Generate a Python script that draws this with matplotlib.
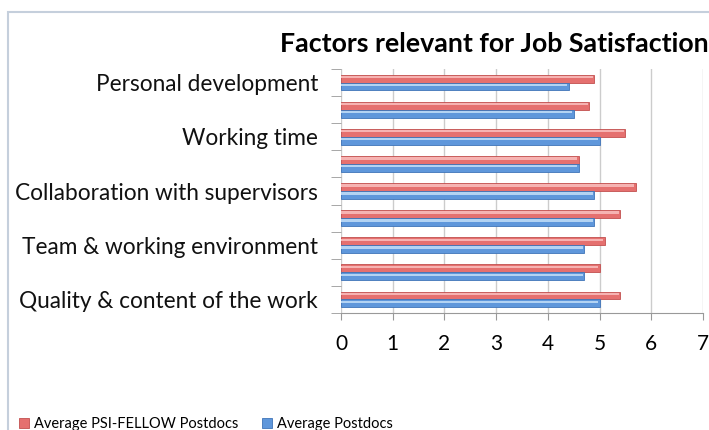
import matplotlib.pyplot as plt
import matplotlib.patches as mpatches
import numpy as np

plt.rcParams['font.family'] = ['Lato', 'DejaVu Sans']

categories = ['Quality & content of the work', '', 'Team & working environment', '',
              'Collaboration with supervisors', '', 'Working time', '', 'Personal development']
psi_fellow = [5.4, 5.0, 5.1, 5.4, 5.7, 4.6, 5.5, 4.8, 4.9]
postdocs = [5.0, 4.7, 4.7, 4.9, 4.9, 4.6, 5.0, 4.5, 4.4]
xticks = [0, 1, 2, 3, 4, 5, 6, 7]

red = '#e5706f'
red_light = '#f6b3b2'
red_edge = '#c24f4f'
blue = '#5f97db'
blue_light = '#b3d3f3'
blue_edge = '#3f74b8'

fig = plt.figure(figsize=(7.09, 4.30), dpi=100)
# chart area frame
fig.patches.append(mpatches.Rectangle((8 / 709, -0.1), 1.2, 1 - 12 / 430 + 0.1,
                                      transform=fig.transFigure, fill=False,
                                      edgecolor='#c5cfdc', linewidth=1.5))

ax = fig.add_axes([341 / 709, 117 / 430, 362 / 709, 244 / 430])
y = np.arange(len(categories))
h = 0.29
ax.barh(y + 0.145, psi_fellow, h, color=red, edgecolor=red_edge, linewidth=0.6,
        label='Average PSI-FELLOW Postdocs', zorder=3)
ax.barh(y - 0.145, postdocs, h, color=blue, edgecolor=blue_edge, linewidth=0.6,
        label='Average Postdocs', zorder=3)
# glossy highlight on the upper part of each bar
ax.barh(y + 0.145 + h * 0.2, np.array(psi_fellow) - 0.03, h * 0.3, color=red_light,
        linewidth=0, zorder=4)
ax.barh(y - 0.145 + h * 0.2, np.array(postdocs) - 0.03, h * 0.3, color=blue_light,
        linewidth=0, zorder=4)

ax.set_xlim(0, 7)
ax.set_ylim(-0.5, len(categories) - 0.5)
ax.set_xticks(xticks)
ax.set_xticklabels([str(t) for t in xticks], fontsize=15)
ax.tick_params(axis='x', length=5, color='#999999', pad=10)
ax.set_yticks(y)
ax.set_yticklabels(categories, fontsize=16.3, color='#111111')
ax.tick_params(axis='y', length=0, pad=16.5)
ax.set_yticks(np.arange(-0.5, len(categories)), minor=True)
ax.tick_params(axis='y', which='minor', length=7, color='#999999')
ax.grid(axis='x', color='#cccccc', linewidth=1, zorder=0)
for s in ['top', 'right', 'left']:
    ax.spines[s].set_visible(False)
ax.spines['bottom'].set_color('#999999')

fig.text(709 / 709, 1 - 44 / 430, 'Factors relevant for Job Satisfaction', ha='right',
         va='center', fontsize=19.3, fontweight='bold')

handles, labels = ax.get_legend_handles_labels()
fig.legend(handles, labels, loc='lower left', bbox_to_anchor=(6 / 709, -14 / 430),
           ncol=2, frameon=False, fontsize=10.5, handlelength=0.7, handleheight=0.7,
           columnspacing=1.6, handletextpad=0.35)

fig.savefig('out.png', dpi=100)
